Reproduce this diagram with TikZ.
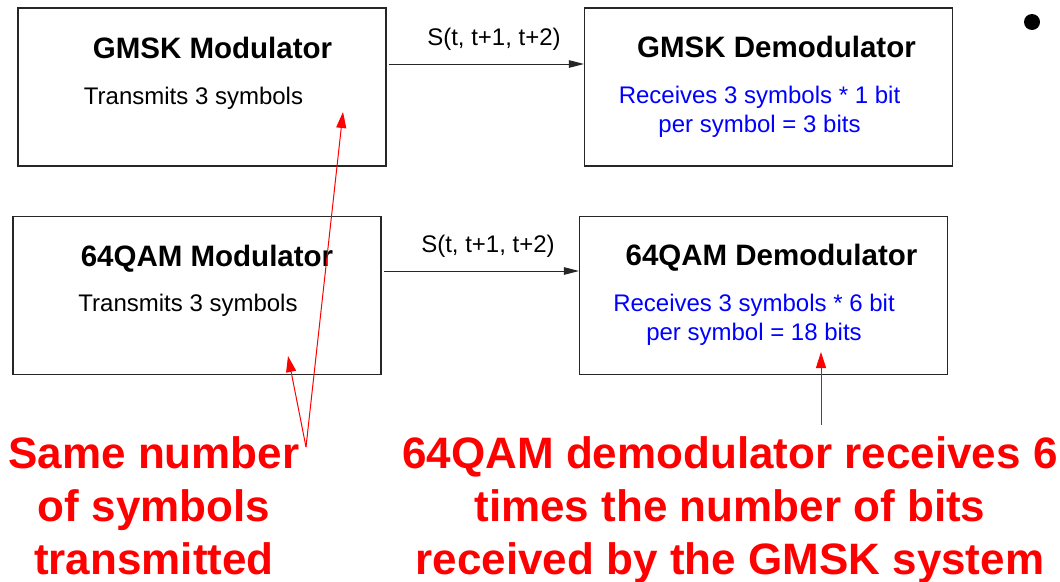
\documentclass[tikz,border=0pt]{standalone}
\usepackage{fontspec}
\setmainfont{Liberation Sans}
\usetikzlibrary{arrows.meta}
\definecolor{rxblue}{RGB}{0,0,255}
\definecolor{note}{RGB}{255,0,0}
\tikzset{
  blockbox/.style={draw=black!85, line width=1.1pt, minimum width=368pt, minimum height=158pt, inner sep=0pt},
  title/.style={font=\fontsize{29.5}{35}\selectfont\bfseries, anchor=base, inner sep=0pt},
  body/.style={font=\fontsize{24}{29}\selectfont, anchor=base, inner sep=0pt, align=center},
  rx/.style={body, text=rxblue},
  remark/.style={font=\fontsize{44}{53}\selectfont\bfseries, text=note, anchor=base, inner sep=0pt, align=center},
  signal/.style={line width=1pt, black!85, -{Triangle[length=15pt,width=7.5pt]}},
  pointer/.style={line width=1pt, note, -{Triangle[length=16pt,width=10pt]}}
}
\begin{document}
\begin{tikzpicture}[x=1pt,y=-1pt]
\useasboundingbox[fill=white] (0,0) rectangle (1060,581);

% blocks
\node[blockbox] (gmod) at (202,87) {};
\node[blockbox] (gdem) at (768.5,87) {};
\node[blockbox] (qmod) at (197,295.5) {};
\node[blockbox] (qdem) at (763.5,295.5) {};

% block labels (multi-line labels are placed by the baseline of their last line)
\node[title] (gmodT) at (212.5,58) {GMSK Modulator};
\node[body]  (gmodB) at (193.5,104) {Transmits 3 symbols};
\node[title] (gdemT) at (776.5,57) {GMSK Demodulator};
\node[rx]    (gdemB) at (759.5,132) {Receives 3 symbols * 1 bit\\per symbol = 3 bits};
\node[title] (qmodT) at (207,266) {64QAM Modulator};
\node[body]  (qmodB) at (188,311) {Transmits 3 symbols};
\node[title] (qdemT) at (771.5,265) {64QAM Demodulator};
\node[rx]    (qdemB) at (754,340) {Receives 3 symbols * 6 bit\\per symbol = 18 bits};

% signal links
\coordinate (row1) at (0,64);
\coordinate (row2) at (0,271);
\draw[signal] ([xshift=2pt]gmod.east |- row1) -- (gdem.west |- row1);
\draw[signal] ([xshift=2pt]qmod.east |- row2) -- (qdem.west |- row2);
\node[body] (s1) at (494,45) {S(t, t+1, t+2)};
\node[body] (s2) at (488,252) {S(t, t+1, t+2)};

% remarks
\node[remark] (leftnote) at (154,574) {Same number\\of symbols\\transmitted};
\node[remark] (rightnote) at (730,574) {64QAM demodulator receives 6\\times the number of bits\\received by the GMSK system};

% pointers
\coordinate (apex) at (306,447);
\coordinate (tipA) at (343,112);
\coordinate (tipB) at (288,356);
\coordinate (qfoot) at (821,425);
\coordinate (qtip) at (821,352);
\draw[pointer] (apex) -- (tipA);
\draw[pointer] (apex) -- (tipB);
\draw[pointer] (qfoot) -- (qtip);

% bullet
\fill (1032,22) circle (8pt);
\end{tikzpicture}
\end{document}
